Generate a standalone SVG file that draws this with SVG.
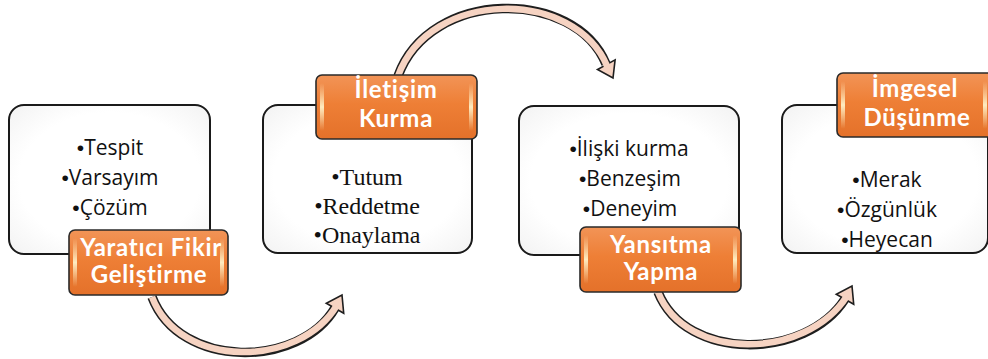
<svg xmlns="http://www.w3.org/2000/svg" width="988" height="359" viewBox="0 0 988 359">
<defs>
<linearGradient id="lab" x1="0" y1="0" x2="0" y2="1">
<stop offset="0" stop-color="#f29457"/>
<stop offset="0.45" stop-color="#ee7f36"/>
<stop offset="1" stop-color="#e4712a"/>
</linearGradient>
<linearGradient id="glow" x1="0" y1="0" x2="0" y2="1">
<stop offset="0" stop-color="#fff2c8" stop-opacity="0"/>
<stop offset="0.5" stop-color="#fff2c8" stop-opacity="0.95"/>
<stop offset="1" stop-color="#fff2c8" stop-opacity="0"/>
</linearGradient>
<radialGradient id="boxg" cx="0.5" cy="0.5" r="0.75">
<stop offset="0.6" stop-color="#ffffff"/>
<stop offset="1" stop-color="#f0f0f0"/>
</radialGradient>
</defs>
<style>
.box{fill:url(#boxg);stroke:#1a1a1a;stroke-width:2}
.lab{fill:url(#lab);stroke:#2a2a2a;stroke-width:1.6}
.glow{fill:url(#glow)}
.lt{font-family:Lato,"Open Sans",sans-serif;font-weight:bold;font-size:24px;letter-spacing:0.7px;fill:#ffffff;text-anchor:middle}
.bt{font-family:"Open Sans","Noto Sans",sans-serif;font-size:21px;fill:#111111;text-anchor:middle}
.st{font-family:"Liberation Serif","Times New Roman",serif;font-size:24px;fill:#111111;text-anchor:middle}
.b{font-family:"Liberation Sans",Arial,sans-serif}
.sh-o{fill:none;stroke:#1e1e1e;stroke-width:9.5;stroke-linecap:butt}
.sh-i{fill:none;stroke:#f6d3c2;stroke-width:6.5;stroke-linecap:butt}
.head{fill:#f6d3c2;stroke:#1e1e1e;stroke-width:1.6;stroke-linejoin:miter}
</style>
<rect width="988" height="359" fill="#ffffff"/>
<g id="connectors">
<path class="sh-o" d="M152,297 C180,370 300,368 335,308"/>
<polygon class="head" points="342,295 343.7,313.2 326.3,303.2"/>
<path class="sh-i" d="M152,297 C180,370 300,368 337,305"/>
<path class="sh-o" d="M398,76 C430,-12 575,-12 606,64"/>
<polygon class="head" points="613,78 615.1,59.9 597.5,69.5"/>
<path class="sh-i" d="M398,76 C430,-12 575,-12 607.5,67"/>
<path class="sh-o" d="M658,292 C686,362 806,360 845,299"/>
<polygon class="head" points="852,286 853.7,304.2 836.3,294.2"/>
<path class="sh-i" d="M658,292 C686,362 806,360 847,296"/>
</g>
<g id="node1">
<rect class="box" x="9" y="105" width="201" height="149" rx="15"/>
<text class="bt" x="110" y="155"><tspan class="b">•</tspan>Tespit</text>
<text class="bt" x="110" y="185"><tspan class="b">•</tspan>Varsayım</text>
<text class="bt" x="110" y="215"><tspan class="b">•</tspan>Çözüm</text>
<rect class="lab" x="69" y="230" width="159" height="65" rx="6"/>
<rect class="glow" x="73" y="238" width="4" height="49" rx="2"/>
<rect class="glow" x="220" y="238" width="4" height="49" rx="2"/>
<text class="lt" x="151" y="256">Yaratıcı Fikir</text>
<text class="lt" x="149" y="283">Geliştirme</text>
</g>
<g id="node2">
<rect class="box" x="263" y="105" width="209" height="148" rx="15"/>
<text class="st" x="367" y="185">•Tutum</text>
<text class="st" x="367" y="214">•Reddetme</text>
<text class="st" x="367" y="243">•Onaylama</text>
<rect class="lab" x="316" y="75" width="161" height="64" rx="6"/>
<rect class="glow" x="320" y="83" width="4" height="48" rx="2"/>
<rect class="glow" x="469" y="83" width="4" height="48" rx="2"/>
<text class="lt" x="396" y="98">İletişim</text>
<text class="lt" x="396" y="127">Kurma</text>
</g>
<g id="node3">
<rect class="box" x="519" y="106" width="220" height="149" rx="15"/>
<text class="bt" x="629" y="156"><tspan class="b">•</tspan>İlişki kurma</text>
<text class="bt" x="630" y="186"><tspan class="b">•</tspan>Benzeşim</text>
<text class="bt" x="630" y="216"><tspan class="b">•</tspan>Deneyim</text>
<rect class="lab" x="580" y="227" width="161" height="65" rx="6"/>
<rect class="glow" x="584" y="235" width="4" height="49" rx="2"/>
<rect class="glow" x="733" y="235" width="4" height="49" rx="2"/>
<text class="lt" x="661" y="253">Yansıtma</text>
<text class="lt" x="661" y="280">Yapma</text>
</g>
<g id="node4">
<rect class="box" x="782" y="105" width="206" height="148" rx="15"/>
<text class="bt" x="887" y="187"><tspan class="b">•</tspan>Merak</text>
<text class="bt" x="887" y="217"><tspan class="b">•</tspan>Özgünlük</text>
<text class="bt" x="887" y="247"><tspan class="b">•</tspan>Heyecan</text>
<rect class="lab" x="837" y="73" width="161" height="64" rx="6"/>
<rect class="glow" x="841" y="81" width="4" height="48" rx="2"/>
<rect class="glow" x="983" y="81" width="4" height="48" rx="2"/>
<text class="lt" x="915" y="97">İmgesel</text>
<text class="lt" x="917" y="126">Düşünme</text>
</g>
</svg>
